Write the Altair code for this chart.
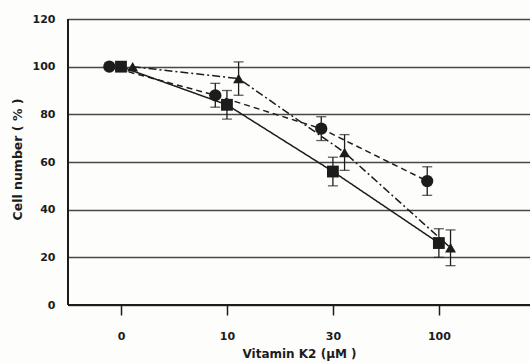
import altair as alt
import pandas as pd

# Vitamin K2 doses (shown as evenly spaced categories)
doses = ["0", "10", "30", "100"]

# Cell number (% of control), mean and error for each series
circle_mean = [100, 88, 74, 52]
circle_err = [0, 5, 5, 6]
square_mean = [100, 84, 56, 26]
square_err = [0, 6, 6, 6]
triangle_mean = [100, 95, 64, 24]
triangle_err = [0, 7, 7.5, 7.5]

series = [
    ("circle", circle_mean, circle_err, -0.11, "circle", [6, 4], 150),
    ("square", square_mean, square_err, 0.0, "square", [1, 0], 140),
    ("triangle", triangle_mean, triangle_err, 0.11, "triangle-up", [8, 3, 2, 3], 120),
]

rows = []
for name, means, errs, shift, shape, dash, size in series:
    for i, (m, e) in enumerate(zip(means, errs)):
        rows.append({
            "series": name,
            "pos": i + shift,
            "mean": m,
            "lo": m - e,
            "hi": m + e,
            "has_err": e > 0,
        })
df = pd.DataFrame(rows)

ink = "#1c1c1c"
font = "DejaVu Sans"

x_scale = alt.Scale(domain=[-0.5, 3.86], nice=False, zero=False)
y_scale = alt.Scale(domain=[0, 120], nice=False)

label_expr = "[" + ",".join(f"'{d}'" for d in doses) + "][datum.value]"

x_enc = alt.X(
    "pos:Q", scale=x_scale,
    axis=alt.Axis(
        values=[0, 1, 2, 3], labelExpr=label_expr, title="Vitamin K2 (μM )",
        grid=False, domain=False, tickSize=10, tickWidth=1.5, tickColor=ink,
        labelPadding=15, labelFontSize=11, labelColor=ink, labelFont=font,
        labelFontWeight="bold",
        titleFont=font, titleFontSize=12, titleColor=ink, titleFontWeight="bold",
        titleX=231, titleY=48, titleBaseline="middle", titleAnchor="start",
        titleAlign="center",
    ),
)
y_enc = alt.Y(
    "mean:Q", scale=y_scale,
    axis=alt.Axis(
        values=[0, 20, 40, 60, 80, 100, 120], title="Cell number ( % )",
        grid=True, gridColor="#474747", gridWidth=1.5, ticks=False,
        domain=False, labelPadding=13, labelFontSize=11, labelColor=ink,
        labelFont=font, labelFontWeight="bold",
        titleFont=font, titleFontSize=12.5, titleColor=ink, titleFontWeight="bold",
        titleX=-51, titleY=140, titleAngle=270, titleAlign="center",
        titleBaseline="middle",
    ),
)

layers = []

# frame lines: left axis and baseline
frame = pd.DataFrame({"v": [0]})
layers.append(
    alt.Chart(frame).mark_rule(color=ink, strokeWidth=2).encode(
        y=alt.value(0), y2=alt.value(286), x=alt.value(0)
    )
)
layers.append(
    alt.Chart(frame).mark_rule(color=ink, strokeWidth=2).encode(
        x=alt.value(0), x2=alt.value(462), y=alt.value(286)
    )
)

for name, means, errs, shift, shape, dash, size in series:
    sub = df[df["series"] == name]
    layers.append(
        alt.Chart(sub).mark_line(color=ink, strokeWidth=1.5, strokeDash=dash).encode(
            x=x_enc, y=y_enc, order="pos:Q"
        )
    )
    eb = sub[sub["has_err"]]
    layers.append(
        alt.Chart(eb).mark_rule(color=ink, strokeWidth=1.3).encode(
            x="pos:Q", y="lo:Q", y2="hi:Q"
        )
    )
    for col in ["lo", "hi"]:
        layers.append(
            alt.Chart(eb).mark_tick(color=ink, thickness=1.3, size=10, orient="horizontal").encode(
                x="pos:Q", y=f"{col}:Q"
            )
        )
    layers.append(
        alt.Chart(sub).mark_point(
            shape=shape, filled=True, color=ink, opacity=1, size=size,
        ).encode(x="pos:Q", y="mean:Q")
    )

chart = alt.layer(*layers).properties(
    width=462, height=286,
    padding={"left": 68, "top": 19, "right": 0, "bottom": 58},
    autosize=alt.AutoSizeParams(type="none"),
    background="#fdfdfb",
).configure_view(stroke=None)

chart.save("out.html", embed_options={"renderer": "svg", "actions": False})
